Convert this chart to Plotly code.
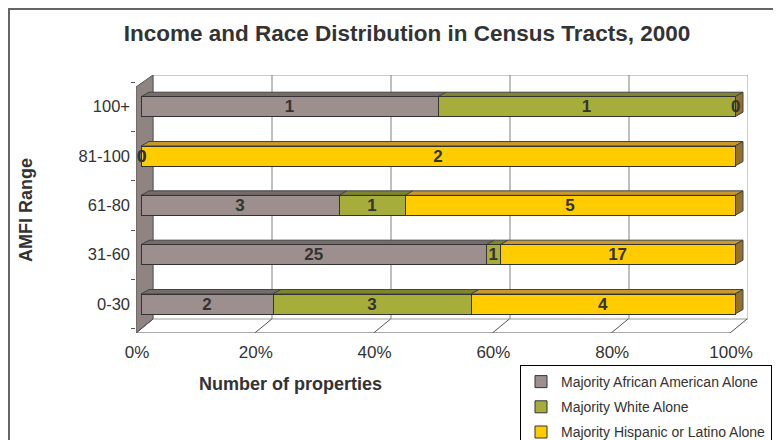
import plotly.graph_objects as go

# data
categories = ["0-30", "31-60", "61-80", "81-100", "100+"]
african_american = [2, 25, 3, 0, 1]
white = [3, 1, 1, 0, 1]
hispanic = [4, 17, 5, 2, 0]
x_ticks = [0, 20, 40, 60, 80, 100]
x_ticklabels = ["0%", "20%", "40%", "60%", "80%", "100%"]

series = [
    ("Majority African American Alone", african_american, "#9c8f8d", "#756b69"),
    ("Majority White Alone", white, "#a6ad3a", "#7f852a"),
    ("Majority Hispanic or Latino Alone", hispanic, "#ffcc00", "#c9982a"),
]
cap_color = "#937033"

# page body adds an 8px margin around the figure
OFF = 8
W, H = 781, 440

# pixel layout of the plot area as seen in the reference
L, R, T, B = 136, 748, 75, 333
X0_PX, X100_PX = 141, 735          # where 0% / 100% of the bars fall
Y0_PX, Y4_PX = 304, 106.7          # centers of first / last category

sx = (X100_PX - X0_PX) / 100.0
sy = (Y0_PX - Y4_PX) / 4.0


def px2x(p):
    return (p - X0_PX) / sx


def px2y(p):
    return (Y0_PX - p) / sy


def paper_x(p):
    return (p - L) / (R - L)


def paper_y(p):
    return (B - p) / (B - T)


TEXT = "#333333"
FONT = "Liberation Sans, Arial, sans-serif"

fig = go.Figure()

totals = [sum(v) for v in zip(african_american, white, hispanic)]
ypos = list(range(len(categories)))
bar_w = 20 / sy

for i, (name, vals, col, _) in enumerate(series):
    fig.add_trace(go.Bar(
        y=ypos, x=vals, orientation="h", name=name, width=bar_w,
        marker=dict(color=col, line=dict(color="#333333", width=1)),
        text=[str(v) if v else "" for v in vals],
        textposition="inside", insidetextanchor="middle", textangle=0,
        constraintext="none",
        textfont=dict(family=FONT, size=17, color=TEXT, weight="bold"),
        legendgroup=name, hoverinfo="x+name",
    ))

shapes = []
# back wall with gridlines
shapes.append(dict(type="rect", xref="x", yref="y", layer="below",
                   x0=px2x(153), x1=px2x(748), y0=px2y(319), y1=px2y(T),
                   line=dict(color="#9a9a9a", width=1), fillcolor="white"))
for k in range(1, 5):
    xx = px2x(153 + k * 119)
    shapes.append(dict(type="line", xref="x", yref="y", layer="below",
                       x0=xx, x1=xx, y0=px2y(319), y1=px2y(T),
                       line=dict(color="#808080", width=1)))
# left side wall
shapes.append(dict(type="path", xref="x", yref="y", layer="below",
                   path=f"M {px2x(136)},{px2y(87)} L {px2x(153)},{px2y(T)} "
                        f"L {px2x(153)},{px2y(319)} L {px2x(136)},{px2y(B)} Z",
                   fillcolor="#8f8482", line=dict(color="#555555", width=1)))
# floor
shapes.append(dict(type="line", xref="x", yref="y", layer="below",
                   x0=px2x(136), x1=px2x(730), y0=px2y(B), y1=px2y(B),
                   line=dict(color="#555555", width=1)))
for k in range(6):
    fx = 136 + k * 118.8
    shapes.append(dict(type="line", xref="x", yref="y", layer="below",
                       x0=px2x(fx), x1=px2x(fx + 17), y0=px2y(B), y1=px2y(319),
                       line=dict(color="#555555", width=1)))
    shapes.append(dict(type="line", xref="x", yref="y", layer="below",
                       x0=px2x(fx), x1=px2x(fx), y0=px2y(B), y1=px2y(B + 4),
                       line=dict(color="#555555", width=1)))

# 3d tops of each segment and end caps
dx, dy = 8 / sx, 4.5 / sy
for c in range(len(categories)):
    start = 0.0
    ytop = c + bar_w / 2
    ybot = c - bar_w / 2
    for name, vals, col, top in series:
        w = vals[c] / totals[c] * 100
        if w > 0:
            x1 = start + w
            shapes.append(dict(
                type="path", xref="x", yref="y", layer="below",
                path=f"M {start},{ytop} L {start + dx},{ytop + dy} "
                     f"L {x1 + dx},{ytop + dy} L {x1},{ytop} Z",
                fillcolor=top, line=dict(color="#444444", width=1)))
        start += w
    shapes.append(dict(
        type="path", xref="x", yref="y", layer="below",
        path=f"M 100,{ybot} L {100 + dx},{ybot + dy} "
             f"L {100 + dx},{ytop + dy} L 100,{ytop} Z",
        fillcolor=cap_color, line=dict(color="#444444", width=1)))

# outer frame (as close to the page corner as the body margin allows)
shapes.append(dict(type="rect", xref="paper", yref="paper",
                   x0=paper_x(OFF + 1), x1=paper_x(820), y0=paper_y(480), y1=paper_y(OFF + 1),
                   line=dict(color="#666666", width=2)))

annotations = []
# labels for zero-size segments
for c in range(len(categories)):
    start = 0.0
    for name, vals, col, top in series:
        w = vals[c] / totals[c] * 100
        if vals[c] == 0:
            annotations.append(dict(x=start, y=c, xref="x", yref="y", text="0",
                                    showarrow=False,
                                    font=dict(family=FONT, size=17, color=TEXT, weight="bold")))
        start += w

annotations.append(dict(text="Number of properties", xref="paper", yref="paper",
                        x=paper_x(290), y=paper_y(384),
                        xanchor="center", yanchor="middle", showarrow=False,
                        font=dict(family=FONT, size=18, color=TEXT, weight="bold")))
annotations.append(dict(text="AMFI Range", xref="paper", yref="paper",
                        x=paper_x(26), y=paper_y(210), textangle=-90,
                        xanchor="center", yanchor="middle", showarrow=False,
                        font=dict(family=FONT, size=18, color=TEXT, weight="bold")))

fig.update_layout(
    width=W, height=H,
    margin=dict(l=L - OFF, r=W - (R - OFF), t=T - OFF, b=H - (B - OFF), autoexpand=False),
    paper_bgcolor="white", plot_bgcolor="white",
    barmode="stack", barnorm="percent",
    title=dict(text="<b>Income and Race Distribution in Census Tracts, 2000</b>",
               x=(407 - OFF) / W, xanchor="center", y=1 - (33 - OFF) / H, yanchor="middle",
               font=dict(family=FONT, size=22.5, color=TEXT)),
    xaxis=dict(range=[px2x(L), px2x(R)], tickvals=x_ticks, ticktext=x_ticklabels,
               showgrid=False, zeroline=False, showline=False, ticks="",
               ticklabelshift=-4, ticklabelstandoff=7,
               tickfont=dict(family=FONT, size=17, color=TEXT)),
    yaxis=dict(range=[px2y(B), px2y(T)], tickvals=ypos, ticktext=categories,
               showgrid=False, zeroline=False, showline=False, ticks="",
               ticklabelstandoff=5,
               minor=dict(ticks="outside", tick0=0.5, dtick=1, ticklen=4,
                          tickcolor="#555555", showgrid=False),
               tickfont=dict(family=FONT, size=16.5, color=TEXT)),
    legend=dict(x=paper_x(520), y=paper_y(365), xanchor="left", yanchor="top",
                bordercolor="#000000", borderwidth=1, bgcolor="white",
                traceorder="grouped", tracegroupgap=4, itemwidth=30,
                font=dict(family=FONT, size=14, color=TEXT)),
    uniformtext=dict(minsize=17, mode="show"),
    shapes=shapes, annotations=annotations,
    showlegend=True,
)

fig.write_html("out.html")
